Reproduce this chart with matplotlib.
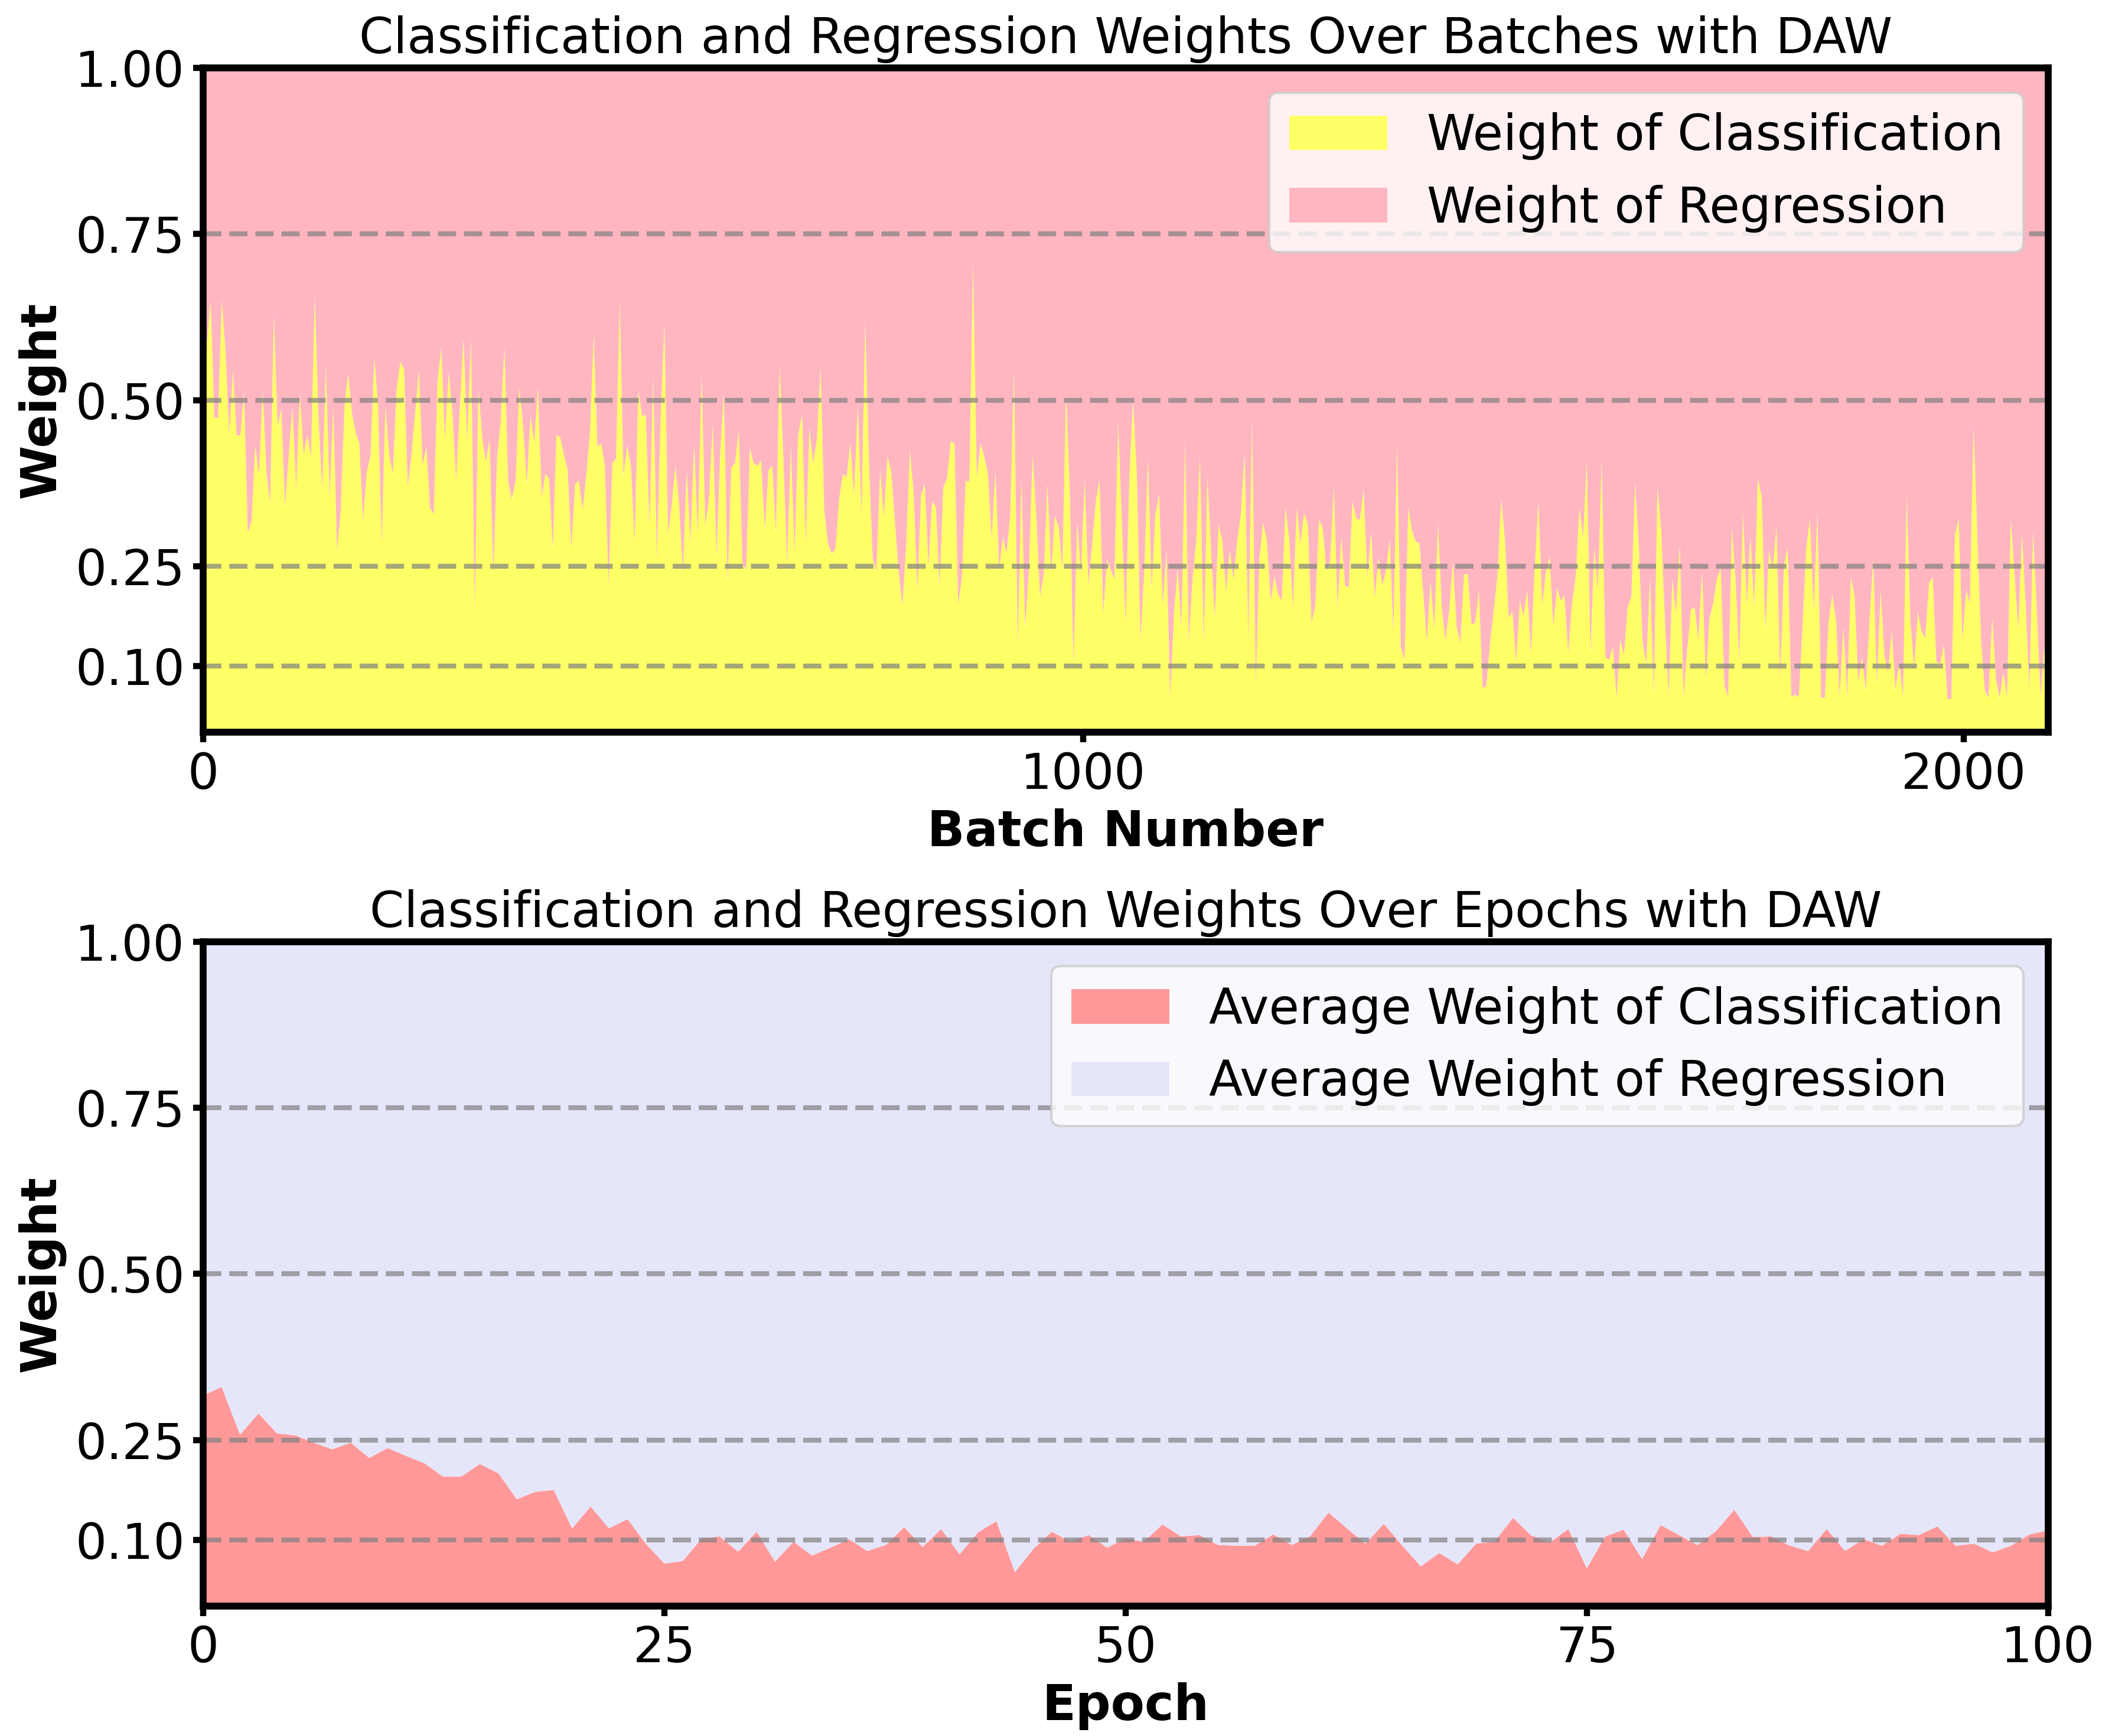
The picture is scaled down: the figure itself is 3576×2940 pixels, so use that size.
import numpy as np
import matplotlib
matplotlib.use('Agg')
import matplotlib.pyplot as plt

# classification weight per batch (about every 4 batches)
n_batches = 2097
cls_batch = [
    0.501, 0.586, 0.649, 0.474, 0.473, 0.652, 0.573, 0.448, 0.545, 0.447,
    0.447, 0.512, 0.300, 0.318, 0.431, 0.387, 0.516, 0.392, 0.345, 0.629,
    0.461, 0.487, 0.339, 0.418, 0.489, 0.366, 0.512, 0.418, 0.447, 0.415,
    0.659, 0.474, 0.366, 0.553, 0.353, 0.491, 0.274, 0.336, 0.491, 0.540,
    0.481, 0.451, 0.435, 0.318, 0.392, 0.417, 0.566, 0.494, 0.284, 0.491,
    0.418, 0.389, 0.516, 0.558, 0.547, 0.369, 0.418, 0.481, 0.547, 0.402,
    0.430, 0.338, 0.328, 0.527, 0.580, 0.441, 0.543, 0.481, 0.379, 0.487,
    0.593, 0.438, 0.593, 0.184, 0.517, 0.445, 0.407, 0.441, 0.238, 0.412,
    0.468, 0.580, 0.377, 0.351, 0.379, 0.519, 0.461, 0.374, 0.476, 0.435,
    0.520, 0.354, 0.389, 0.382, 0.277, 0.448, 0.444, 0.418, 0.395, 0.277,
    0.374, 0.379,
    0.335, 0.386, 0.451, 0.599, 0.430, 0.435, 0.401, 0.221, 0.405, 0.412,
    0.649, 0.386, 0.432, 0.401, 0.287, 0.515, 0.476, 0.478, 0.311, 0.535,
    0.261, 0.474, 0.614, 0.298, 0.343, 0.402, 0.339, 0.238, 0.395, 0.285,
    0.435, 0.297, 0.540, 0.310, 0.353, 0.464, 0.264, 0.418, 0.511, 0.224,
    0.399, 0.405, 0.456, 0.254, 0.245, 0.428, 0.405, 0.401, 0.409, 0.305,
    0.395, 0.401, 0.300, 0.553, 0.409, 0.254, 0.432, 0.270, 0.448, 0.478,
    0.284, 0.458, 0.405, 0.441, 0.550, 0.333, 0.284, 0.269, 0.276, 0.353,
    0.389, 0.384, 0.435, 0.356, 0.494, 0.326, 0.620, 0.409, 0.262, 0.243,
    0.395, 0.324, 0.415, 0.392, 0.316, 0.241, 0.191, 0.280, 0.425, 0.362,
    0.214, 0.356, 0.374, 0.251, 0.348, 0.339, 0.221, 0.369, 0.382,
    0.438, 0.435, 0.193, 0.234, 0.379, 0.377, 0.710, 0.384, 0.435, 0.415,
    0.389, 0.291, 0.394, 0.245, 0.293, 0.270, 0.326, 0.545, 0.132, 0.381,
    0.157, 0.244, 0.418, 0.323, 0.205, 0.239, 0.374, 0.238, 0.326, 0.309,
    0.245, 0.514, 0.362, 0.103, 0.318, 0.238, 0.382, 0.221, 0.284, 0.348,
    0.381, 0.177, 0.261, 0.245, 0.230, 0.468, 0.316, 0.164, 0.379, 0.499,
    0.392, 0.138, 0.241, 0.412, 0.216, 0.326, 0.359, 0.191, 0.274, 0.053,
    0.178, 0.247, 0.157, 0.438, 0.136, 0.232, 0.287, 0.415, 0.132, 0.386,
    0.270, 0.173, 0.313, 0.290, 0.211, 0.274, 0.230, 0.287, 0.330, 0.420,
    0.144, 0.471, 0.072, 0.264, 0.316, 0.287, 0.198, 0.234, 0.208, 0.198,
    0.339, 0.290, 0.186, 0.339, 0.284, 0.330, 0.313,
    0.165, 0.191, 0.320, 0.307, 0.244, 0.257, 0.369, 0.186, 0.295, 0.221,
    0.218, 0.348, 0.322, 0.320, 0.366, 0.234, 0.302, 0.203, 0.264, 0.221,
    0.243, 0.290, 0.151, 0.436, 0.129, 0.109, 0.339, 0.303, 0.287, 0.285,
    0.211, 0.136, 0.228, 0.155, 0.316, 0.188, 0.138, 0.184, 0.257, 0.159,
    0.134, 0.238, 0.238, 0.162, 0.165, 0.214, 0.066, 0.070, 0.136, 0.184,
    0.238, 0.351, 0.290, 0.172, 0.182, 0.106, 0.198, 0.175, 0.214, 0.118,
    0.247, 0.349, 0.191, 0.241, 0.265, 0.160, 0.218, 0.198, 0.206, 0.120,
    0.191, 0.234, 0.339, 0.293, 0.409, 0.119, 0.278, 0.214, 0.410, 0.113,
    0.109, 0.129, 0.052, 0.139, 0.116, 0.188, 0.205, 0.377, 0.277, 0.136,
    0.103, 0.234, 0.057, 0.369, 0.305, 0.168, 0.055, 0.231, 0.178, 0.284,
    0.053, 0.126, 0.185, 0.188, 0.139, 0.244, 0.080, 0.172, 0.195, 0.231,
    0.247, 0.070, 0.053, 0.307, 0.231, 0.107, 0.331, 0.191, 0.295, 0.188,
    0.382, 0.355, 0.155, 0.274, 0.244, 0.311, 0.080, 0.251, 0.278, 0.053,
    0.057, 0.053, 0.159, 0.277, 0.322, 0.182, 0.333, 0.052, 0.052, 0.165,
    0.208, 0.168, 0.053, 0.159, 0.053, 0.234, 0.205, 0.076, 0.114, 0.063,
    0.165, 0.261, 0.073, 0.214, 0.116, 0.090, 0.153, 0.063, 0.107, 0.052,
    0.359, 0.168, 0.096, 0.182, 0.152, 0.142, 0.224, 0.234, 0.106, 0.103,
    0.132, 0.050, 0.050, 0.297, 0.322, 0.139, 0.214, 0.195, 0.461, 0.297,
    0.139, 0.063, 0.052, 0.173, 0.080, 0.052, 0.090, 0.053, 0.322, 0.238,
    0.155, 0.300, 0.191, 0.066, 0.303, 0.182, 0.053, 0.129, 0.083,
]

# average classification weight per epoch
cls_epoch = [
    0.317, 0.330, 0.258, 0.290, 0.260, 0.257, 0.246, 0.236, 0.246, 0.223,
    0.238, 0.226, 0.215, 0.195, 0.195, 0.214, 0.200, 0.161, 0.172, 0.175,
    0.117, 0.150, 0.117, 0.131, 0.094, 0.064, 0.068, 0.101, 0.105, 0.082,
    0.112, 0.067, 0.097, 0.076, 0.088, 0.101, 0.083, 0.092, 0.119, 0.089,
    0.116, 0.078, 0.111, 0.128, 0.051, 0.086, 0.112, 0.097, 0.107, 0.088,
    0.102, 0.097, 0.123, 0.105, 0.107, 0.092, 0.091, 0.091, 0.108, 0.092,
    0.105, 0.141, 0.117, 0.094, 0.124, 0.091, 0.060, 0.080, 0.063, 0.094,
    0.097, 0.133, 0.106, 0.096, 0.116, 0.057, 0.105, 0.115, 0.071, 0.122,
    0.107, 0.092, 0.113, 0.145, 0.104, 0.105, 0.091, 0.083, 0.116, 0.083,
    0.101, 0.091, 0.109, 0.107, 0.120, 0.091, 0.094, 0.081, 0.091, 0.108,
    0.114,
]

y_ticks = [0.10, 0.25, 0.50, 0.75, 1.00]
batch_ticks = [0, 1000, 2000]
epoch_ticks = [0, 25, 50, 75, 100]

cls_batch = np.array(cls_batch)
reg_batch = 1 - cls_batch
batch_idx = np.linspace(0, n_batches - 1, len(cls_batch))

cls_epoch = np.array(cls_epoch)
reg_epoch = 1 - cls_epoch
epochs = np.arange(len(cls_epoch))

fig, (ax1, ax2) = plt.subplots(2, 1, figsize=(11.92, 9.8), dpi=300)
fig.subplots_adjust(left=0.0962, right=0.9697, top=0.9609, bottom=0.0748, hspace=0.315)

ax1.stackplot(batch_idx, cls_batch, reg_batch, colors=['#FFFF66', '#FFB6C1'],
              labels=['Weight of Classification', 'Weight of Regression'])
ax1.set_title('Classification and Regression Weights Over Batches with DAW', fontsize=20)
ax1.set_xlabel('Batch Number', fontsize=20, fontweight='bold')
ax1.set_xlim(0, n_batches - 1)
ax1.set_xticks(batch_ticks)

ax2.stackplot(epochs, cls_epoch, reg_epoch, colors=['#FF9999', '#E6E6FA'],
              labels=['Average Weight of Classification', 'Average Weight of Regression'])
ax2.set_title('Classification and Regression Weights Over Epochs with DAW', fontsize=20)
ax2.set_xlabel('Epoch', fontsize=20, fontweight='bold')
ax2.set_xlim(0, 100)
ax2.set_xticks(epoch_ticks)

for ax in (ax1, ax2):
    ax.set_ylim(0, 1)
    ax.set_yticks(y_ticks)
    ax.set_yticklabels(['%.2f' % t for t in y_ticks])
    ax.set_ylabel('Weight', fontsize=20, fontweight='bold')
    ax.tick_params(labelsize=20, width=2.5, length=4)
    ax.grid(axis='y', linestyle='--', color='gray', alpha=0.7, linewidth=2)
    for sp in ax.spines.values():
        sp.set_linewidth(2.8)
    ax.legend(loc='upper right', fontsize=20, framealpha=0.8)

plt.savefig('out.png', dpi=300)
